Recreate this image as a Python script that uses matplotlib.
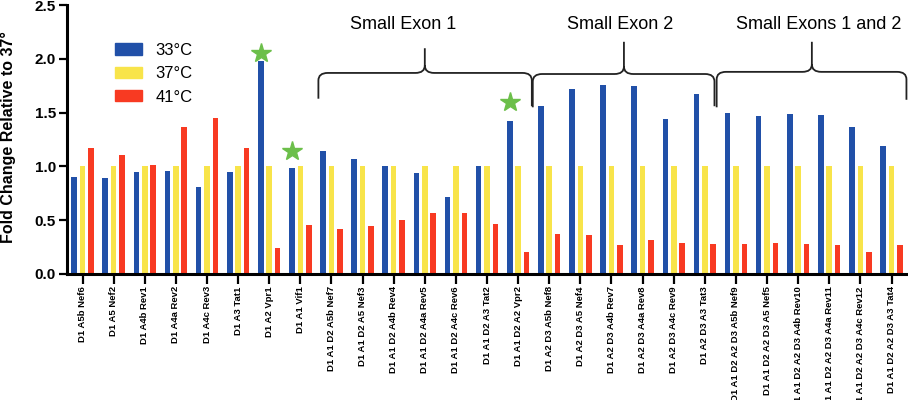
import matplotlib
matplotlib.use("Agg")
import matplotlib.pyplot as plt
import numpy as np
from matplotlib.path import Path
from matplotlib.patches import PathPatch, Patch

plt.rcParams['font.family'] = ['Liberation Sans', 'DejaVu Sans']

# data
labels = [
    "D1 A5b Nef6", "D1 A5 Nef2", "D1 A4b Rev1", "D1 A4a Rev2", "D1 A4c Rev3",
    "D1 A3 Tat1", "D1 A2 Vpr1", "D1 A1 Vif1",
    "D1 A1 D2 A5b Nef7", "D1 A1 D2 A5 Nef3", "D1 A1 D2 A4b Rev4",
    "D1 A1 D2 A4a Rev5", "D1 A1 D2 A4c Rev6", "D1 A1 D2 A3 Tat2",
    "D1 A1 D2 A2 Vpr2",
    "D1 A2 D3 A5b Nef8", "D1 A2 D3 A5 Nef4", "D1 A2 D3 A4b Rev7",
    "D1 A2 D3 A4a Rev8", "D1 A2 D3 A4c Rev9", "D1 A2 D3 A3 Tat3",
    "D1 A1 D2 A2 D3 A5b Nef9", "D1 A1 D2 A2 D3 A5 Nef5",
    "D1 A1 D2 A2 D3 A4b Rev10", "D1 A1 D2 A2 D3 A4a Rev11",
    "D1 A1 D2 A2 D3 A4c Rev12", "D1 A1 D2 A2 D3 A3 Tat4",
]
t33 = [0.90, 0.89, 0.95, 0.96, 0.81, 0.95, 1.98, 0.98,
       1.14, 1.07, 1.00, 0.94, 0.71, 1.00, 1.42,
       1.56, 1.72, 1.76, 1.75, 1.44, 1.67,
       1.50, 1.47, 1.49, 1.48, 1.37, 1.19]
t37 = [1.0] * 27
t41 = [1.17, 1.11, 1.01, 1.37, 1.45, 1.17, 0.24, 0.45,
       0.42, 0.44, 0.50, 0.57, 0.57, 0.46, 0.20,
       0.37, 0.36, 0.27, 0.31, 0.285, 0.275,
       0.275, 0.29, 0.275, 0.27, 0.205, 0.27]

# significance stars (category index, height)
star_idx = [6, 7, 14]
star_y = [2.06, 1.14, 1.60]

# bracket groups: (first category, last category, title)
groups = [(8, 14, "Small Exon 1"), (15, 20, "Small Exon 2"),
          (21, 26, "Small Exons 1 and 2")]

blue = '#2150a8'
yellow = '#f8e44a'
red = '#f83a22'
green = '#6cbf4a'

fig = plt.figure(figsize=(9.08, 4.0), dpi=100)
ax = fig.add_axes([67/908, 126.3/400, 841/908, 268.4/400])

x = np.arange(len(labels))
w = 0.18
off = 0.27
ax.bar(x - off, t33, width=w, color=blue, label='33°C')
ax.bar(x, t37, width=w, color=yellow, label='37°C')
ax.bar(x + off, t41, width=w, color=red, label='41°C')

# stars over the 33°C bars
ax.plot(x[star_idx] - off, star_y, linestyle='none', marker='*',
        markersize=15, color=green, clip_on=False)

ax.set_xlim(-0.5, 26.53)
ax.set_ylim(0, 2.5)
ax.set_yticks([0, 0.5, 1.0, 1.5, 2.0, 2.5])
ax.set_yticklabels(['0.0', '0.5', '1.0', '1.5', '2.0', '2.5'],
                   fontsize=11, fontweight='bold')
ax.set_xticks(x)
ax.set_xticklabels(labels, rotation=90, fontsize=6.8, fontweight='bold')
ax.tick_params(axis='x', length=7, width=1.6, pad=2)
ax.tick_params(axis='y', length=6, width=1.6, pad=2)
for s in ['top', 'right']:
    ax.spines[s].set_visible(False)
for s in ['left', 'bottom']:
    ax.spines[s].set_linewidth(2.2)

fig.text(8/908, (400 - 137) / 400, 'Fold Change Relative to 37°',
         rotation=90, ha='center', va='center',
         fontsize=11.5, fontweight='bold')

handles = [Patch(color=blue), Patch(color=yellow), Patch(color=red)]
ax.legend(handles, ['33°C', '37°C', '41°C'], loc='upper left',
          bbox_to_anchor=(0.057, 0.86), frameon=False, fontsize=12,
          handlelength=1.6, handleheight=0.65, handletextpad=0.85,
          labelspacing=0.5, borderpad=0, borderaxespad=0)


def brace(ax, x0, x1, xm, yh, ytip, yl, yr, rx=0.3, ry=0.07):
    # curly brace: down at both ends, spike up in the middle
    verts = [(x0, yl), (x0, yh - ry), (x0, yh), (x0 + rx, yh),
             (xm - rx, yh), (xm, yh), (xm, yh + ry), (xm, ytip),
             (xm, yh + ry), (xm, yh), (xm + rx, yh),
             (x1 - rx, yh), (x1, yh), (x1, yh - ry), (x1, yr)]
    codes = [Path.MOVETO, Path.LINETO, Path.CURVE3, Path.CURVE3,
             Path.LINETO, Path.CURVE3, Path.CURVE3, Path.LINETO,
             Path.MOVETO, Path.CURVE3, Path.CURVE3,
             Path.LINETO, Path.CURVE3, Path.CURVE3, Path.LINETO]
    ax.add_patch(PathPatch(Path(verts, codes), fill=False, lw=1.3,
                           color='#222222', clip_on=False))


brace(ax, 7.58, 14.44, 11.0, 1.87, 2.10, 1.63, 1.56)
brace(ax, 14.47, 20.31, 17.40, 1.86, 2.16, 1.55, 1.56)
brace(ax, 20.38, 26.48, 23.44, 1.88, 2.16, 1.55, 1.62)

text_x = [10.3, 17.28, 23.67]
for (g0, g1, title), tx in zip(groups, text_x):
    ax.text(tx, 2.32, title, ha='center', va='center', fontsize=13)

plt.savefig('out.png', dpi=100)
